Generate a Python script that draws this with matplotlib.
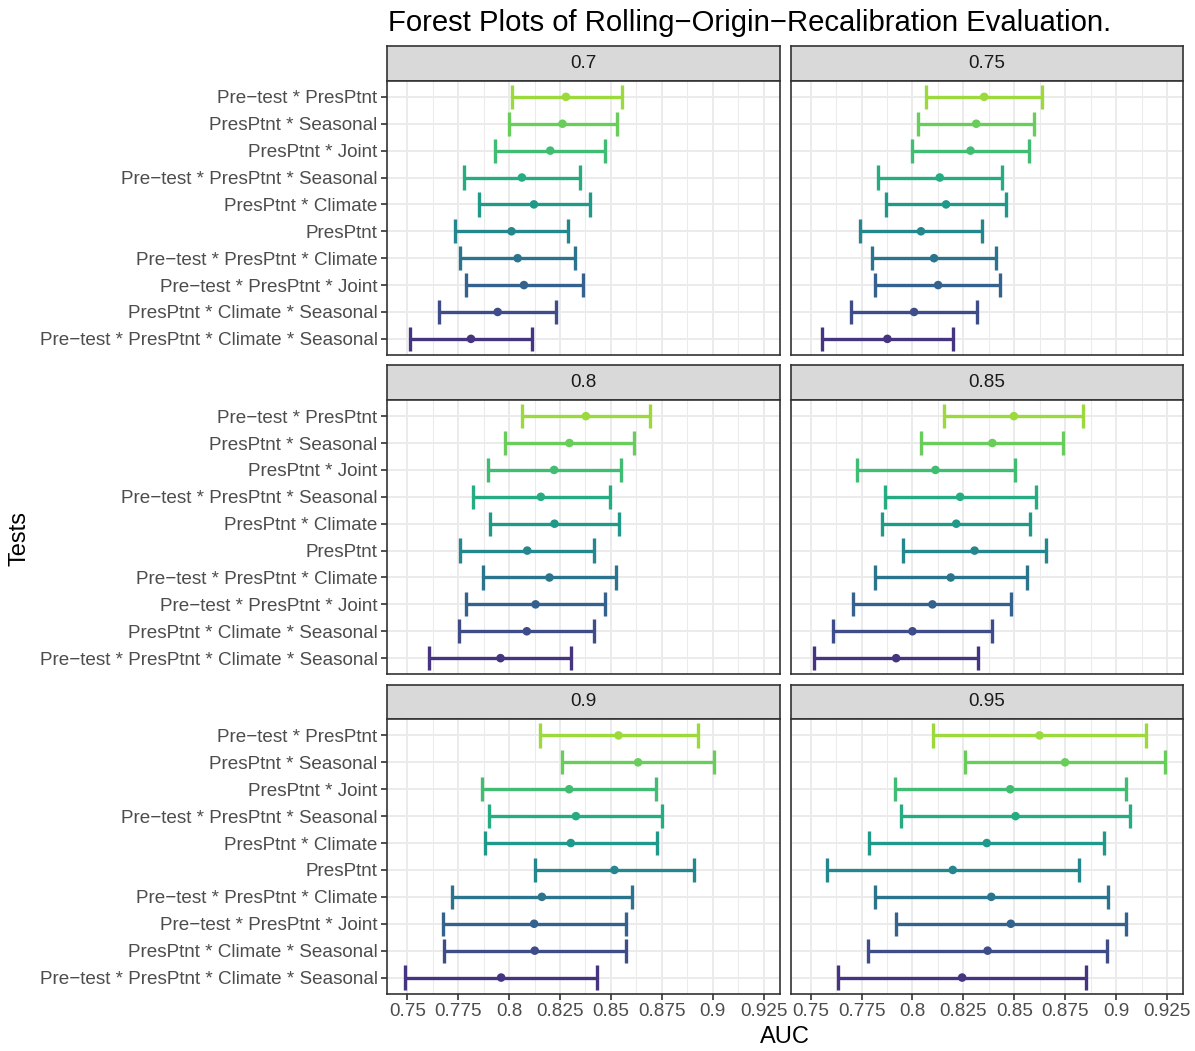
import matplotlib
matplotlib.use("Agg")
import matplotlib.pyplot as plt
import numpy as np
from matplotlib.ticker import FixedLocator, MultipleLocator

plt.rcParams['font.family'] = ['Liberation Sans', 'DejaVu Sans']

M = "\u2212"  # typographic minus, as in the labels

# Model specifications, listed top to bottom
tests = [
    f"Pre{M}test * PresPtnt",
    "PresPtnt * Seasonal",
    "PresPtnt * Joint",
    f"Pre{M}test * PresPtnt * Seasonal",
    "PresPtnt * Climate",
    "PresPtnt",
    f"Pre{M}test * PresPtnt * Climate",
    f"Pre{M}test * PresPtnt * Joint",
    "PresPtnt * Climate * Seasonal",
    f"Pre{M}test * PresPtnt * Climate * Seasonal",
]

thresholds = ["0.7", "0.75", "0.8", "0.85", "0.9", "0.95"]

# AUC estimates with lower / upper confidence bounds per threshold
auc_070 = [0.8279, 0.8262, 0.8202, 0.8063, 0.8122, 0.8012, 0.8042, 0.8073, 0.7944, 0.7813]
lo_070 = [0.8012, 0.7998, 0.7930, 0.7778, 0.7850, 0.7734, 0.7757, 0.7787, 0.7657, 0.7512]
hi_070 = [0.8553, 0.8530, 0.8473, 0.8347, 0.8395, 0.8287, 0.8324, 0.8361, 0.8230, 0.8112]

auc_075 = [0.8352, 0.8313, 0.8285, 0.8134, 0.8165, 0.8042, 0.8106, 0.8126, 0.8008, 0.7877]
lo_075 = [0.8067, 0.8028, 0.7998, 0.7829, 0.7872, 0.7742, 0.7803, 0.7816, 0.7698, 0.7556]
hi_075 = [0.8637, 0.8598, 0.8572, 0.8439, 0.8459, 0.8341, 0.8411, 0.8432, 0.8316, 0.8201]

auc_080 = [0.8377, 0.8296, 0.8221, 0.8156, 0.8223, 0.8089, 0.8198, 0.8130, 0.8087, 0.7958]
lo_080 = [0.8063, 0.7981, 0.7897, 0.7821, 0.7904, 0.7760, 0.7871, 0.7791, 0.7755, 0.7608]
hi_080 = [0.8691, 0.8612, 0.8547, 0.8493, 0.8539, 0.8418, 0.8527, 0.8470, 0.8419, 0.8306]

auc_085 = [0.8498, 0.8392, 0.8113, 0.8234, 0.8215, 0.8305, 0.8188, 0.8098, 0.8000, 0.7920]
lo_085 = [0.8157, 0.8044, 0.7728, 0.7864, 0.7849, 0.7956, 0.7816, 0.7708, 0.7610, 0.7518]
hi_085 = [0.8837, 0.8741, 0.8501, 0.8606, 0.8575, 0.8655, 0.8562, 0.8485, 0.8390, 0.8324]

auc_090 = [0.8537, 0.8633, 0.8295, 0.8328, 0.8303, 0.8517, 0.8161, 0.8123, 0.8126, 0.7961]
lo_090 = [0.8151, 0.8260, 0.7868, 0.7902, 0.7883, 0.8125, 0.7718, 0.7677, 0.7680, 0.7490]
hi_090 = [0.8926, 0.9006, 0.8720, 0.8751, 0.8725, 0.8910, 0.8604, 0.8573, 0.8575, 0.8432]

auc_095 = [0.8624, 0.8749, 0.8480, 0.8506, 0.8365, 0.8198, 0.8387, 0.8483, 0.8369, 0.8244]
lo_095 = [0.8102, 0.8256, 0.7916, 0.7943, 0.7787, 0.7580, 0.7818, 0.7921, 0.7780, 0.7634]
hi_095 = [0.9147, 0.9242, 0.9046, 0.9070, 0.8942, 0.8816, 0.8960, 0.9047, 0.8954, 0.8854]

x_breaks = [0.75, 0.775, 0.8, 0.825, 0.85, 0.875, 0.9, 0.925]
x_labels = ["0.75", "0.775", "0.8", "0.825", "0.85", "0.875", "0.9", "0.925"]

panels = [
    (auc_070, lo_070, hi_070),
    (auc_075, lo_075, hi_075),
    (auc_080, lo_080, hi_080),
    (auc_085, lo_085, hi_085),
    (auc_090, lo_090, hi_090),
    (auc_095, lo_095, hi_095),
]

W, H = 1195, 1051
fig = plt.figure(figsize=(W / 100, H / 100), dpi=100)
fig.patch.set_facecolor("white")


def px_axes(x0, y0, x1, y1):
    return fig.add_axes([x0 / W, 1 - y1 / H, (x1 - x0) / W, (y1 - y0) / H])


colors = plt.cm.viridis(np.linspace(0.85, 0.15, len(tests)))
ypos = np.arange(len(tests), 0, -1)

# shared x range with 5% padding on the full data span
all_lo = min(min(p[1]) for p in panels)
all_hi = max(max(p[2]) for p in panels)
pad = 0.05 * (all_hi - all_lo)
xlim = (all_lo - pad, all_hi + pad)

col_x = [(387.3, 780.0), (790.7, 1183.3)]
row_y = [(46.0, 80.7, 355.0), (365.3, 400.0, 674.3), (684.7, 719.3, 993.7)]
border = "#333333"
text_grey = "#4D4D4D"
tick_fs = 13.6

for i, (est, lo, hi) in enumerate(panels):
    r, c = divmod(i, 2)
    x0, x1 = col_x[c]
    st, sb, pb = row_y[r]

    # facet strip
    sax = px_axes(x0, st, x1, sb)
    sax.set_facecolor("#D9D9D9")
    sax.set_xticks([])
    sax.set_yticks([])
    for sp in sax.spines.values():
        sp.set_color(border)
        sp.set_linewidth(1.2)
    sax.text(0.5, 0.5, thresholds[i], ha="center", va="center",
             fontsize=tick_fs, color="#1A1A1A", transform=sax.transAxes)

    ax = px_axes(x0, sb, x1, pb)
    ax.set_xlim(*xlim)
    ax.set_ylim(0.4, len(tests) + 0.6)
    ax.xaxis.set_major_locator(FixedLocator(x_breaks))
    ax.xaxis.set_minor_locator(MultipleLocator(0.0125))
    ax.set_yticks(ypos)
    ax.grid(which="major", color="#EBEBEB", linewidth=1.4)
    ax.grid(which="minor", axis="x", color="#EBEBEB", linewidth=0.75)
    ax.set_axisbelow(True)
    for sp in ax.spines.values():
        sp.set_color(border)
        sp.set_linewidth(1.2)
    ax.tick_params(which="minor", length=0)
    ax.tick_params(which="major", length=4, width=1.2, color=border,
                   labelsize=tick_fs, labelcolor=text_grey, pad=3)

    if c == 0:
        ax.set_yticklabels(tests)
    else:
        ax.tick_params(axis="y", length=0, labelleft=False)
    if r == 2:
        ax.set_xticklabels(x_labels)
    else:
        ax.tick_params(axis="x", length=0, labelbottom=False)

    est = np.asarray(est)
    lo = np.asarray(lo)
    hi = np.asarray(hi)
    ax.hlines(ypos, lo, hi, colors=colors, linewidth=2.4, zorder=3)
    ax.vlines(lo, ypos - 0.45, ypos + 0.45, colors=colors, linewidth=2.4, zorder=3)
    ax.vlines(hi, ypos - 0.45, ypos + 0.45, colors=colors, linewidth=2.4, zorder=3)
    ax.scatter(est, ypos, color=colors, s=38, zorder=4, linewidths=0)

fig.text(388 / W, 1 - 23 / H,
         f"Forest Plots of Rolling{M}Origin{M}Recalibration Evaluation.",
         ha="left", va="center", fontsize=21.1, color="black")
fig.text(785 / W, 1 - 1037 / H, "AUC", ha="center", va="center",
         fontsize=17, color="black")
fig.text(20 / W, 1 - 538 / H, "Tests", ha="center", va="center",
         rotation=90, fontsize=17, color="black")

fig.savefig("out.png", dpi=100, facecolor="white")
